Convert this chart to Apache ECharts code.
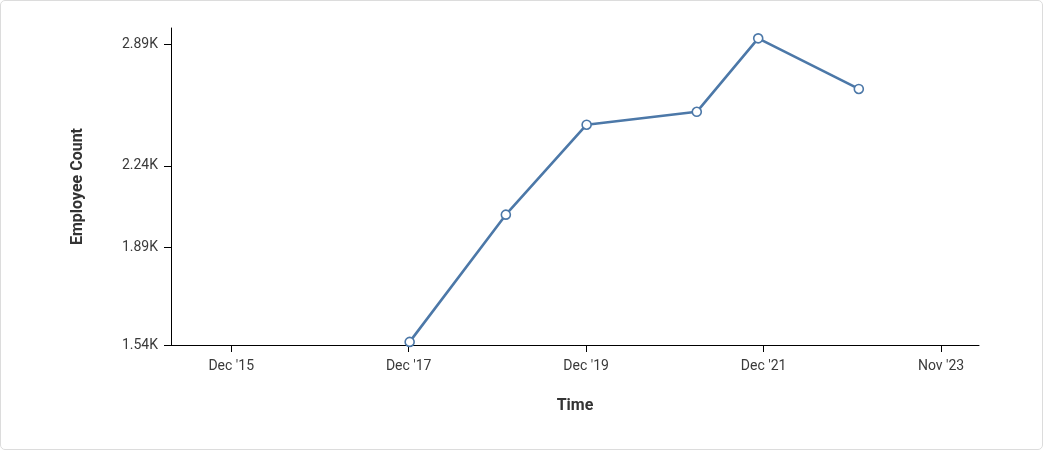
<!DOCTYPE html>
<html>
<head>
<meta charset="utf-8">
<script src="https://cdn.jsdelivr.net/npm/echarts@6/dist/echarts.min.js"></script>
<style>
  html, body { margin: 0; padding: 0; background: #fff; }
  #card {
    width: 1043px; height: 450px; box-sizing: border-box;
    border: 1px solid #dcdcdc; border-radius: 5px; background: #fff;
  }
  #chart { width: 1041px; height: 448px; }
</style>
</head>
<body>
<div id="card"><div id="chart"></div></div>
<script>
  // data
  var dates = ['2017-12-18', '2019-01-15', '2019-12-11', '2021-03-05', '2021-11-11', '2022-12-27'];
  var counts = [1550, 2023, 2442, 2509, 2926, 2632];
  var xTicks = ['2015-12-20', '2017-12-14', '2019-12-09', '2021-12-03', '2023-11-28'];
  var yTicks = [1540, 1890, 2240, 2890];

  var months = ['Jan','Feb','Mar','Apr','May','Jun','Jul','Aug','Sep','Oct','Nov','Dec'];
  var font = 'Roboto, "Noto Sans", sans-serif';
  function ts(s) { return Date.parse(s + 'T00:00:00Z'); }

  var chart = echarts.init(document.getElementById('chart'));
  var option = {
    animation: false,
    grid: { left: 170, right: 63, top: 27, bottom: 104 },
    xAxis: {
      type: 'value',
      min: ts('2015-04-18'),
      max: ts('2024-05-01'),
      name: 'Time',
      nameLocation: 'middle',
      nameGap: 53,
      nameTextStyle: { fontFamily: font, fontSize: 16, fontWeight: 'bold', color: '#333' },
      axisLine: { lineStyle: { color: '#000', width: 1 } },
      axisTick: { show: true, length: 7, lineStyle: { color: '#000' }, customValues: xTicks.map(ts) },
      splitLine: { show: false },
      axisLabel: {
        customValues: xTicks.map(ts),
        margin: 14,
        fontFamily: font, fontSize: 14, color: '#3a3a3a',
        formatter: function (v) {
          var d = new Date(v);
          return months[d.getUTCMonth()] + " '" + String(d.getUTCFullYear()).slice(2);
        }
      }
    },
    yAxis: {
      type: 'log',
      min: 1540,
      max: 2990,
      name: 'Employee Count',
      nameLocation: 'middle',
      nameGap: 85,
      nameTextStyle: { fontFamily: font, fontSize: 16, fontWeight: 'bold', color: '#333' },
      axisLine: { show: true, lineStyle: { color: '#000', width: 1 } },
      axisTick: { show: true, length: 7, lineStyle: { color: '#000' }, customValues: yTicks },
      splitLine: { show: false },
      axisLabel: {
        customValues: yTicks,
        margin: 13,
        fontFamily: font, fontSize: 14, color: '#3a3a3a',
        formatter: function (v) { return (v / 1000).toFixed(2) + 'K'; }
      }
    },
    series: [{
      type: 'line',
      data: dates.map(function (d, i) { return [ts(d), counts[i]]; }),
      symbol: 'circle',
      symbolSize: 9,
      showAllSymbol: true,
      lineStyle: { color: '#4c78a8', width: 2.6 },
      itemStyle: { color: '#fff', borderColor: '#4c78a8', borderWidth: 1.6 }
    }]
  };
  chart.setOption(option);
</script>
</body>
</html>
